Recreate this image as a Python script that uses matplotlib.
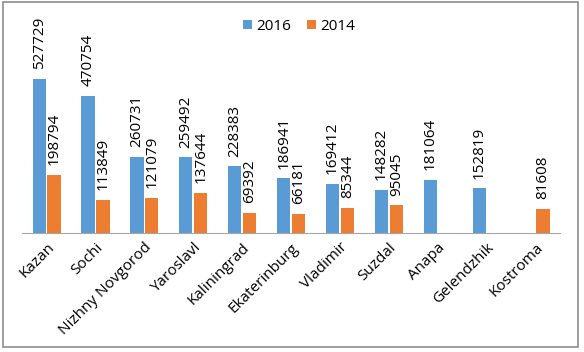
import numpy as np
import matplotlib.pyplot as plt
from matplotlib.patches import Rectangle

plt.rcParams['font.family'] = ['Open Sans', 'DejaVu Sans']

cities = ["Kazan", "Sochi", "Nizhny Novgorod", "Yaroslavl", "Kaliningrad",
          "Ekaterinburg", "Vladimir", "Suzdal", "Anapa", "Gelendzhik", "Kostroma"]
v2016 = [527729, 470754, 260731, 259492, 228383, 186941, 169412, 148282, 181064, 152819, None]
v2014 = [198794, 113849, 121079, 137644, 69392, 66181, 85344, 95045, None, None, 81608]

blue = "#5B9BD5"
orange = "#ED7D31"

fig = plt.figure(figsize=(5.84, 3.52), dpi=100)
# outer chart frame, slightly inset like the original
fig.patches.append(Rectangle((3 / 584, 5 / 352), 575 / 584, 345 / 352,
                             transform=fig.transFigure, fill=False,
                             edgecolor="#8c8c8c", linewidth=1.2))
ax = fig.add_axes([0.038, 0.338, 0.921, 0.605])

x = np.arange(len(cities))
w = 0.27
gap = 0.035

for vals, off, col, lab in [(v2016, -(w + gap) / 2, blue, "2016"),
                            (v2014, (w + gap) / 2, orange, "2014")]:
    xs = [xi + off for xi, v in zip(x, vals) if v is not None]
    ys = [v for v in vals if v is not None]
    ax.bar(xs, ys, width=w, color=col, label=lab)
    for xi, v in zip(xs, ys):
        ax.annotate(str(v), (xi, v), xytext=(0, 7), textcoords="offset points",
                    rotation=90, ha="center", va="bottom", fontsize=11)

ax.set_xlim(-0.5, len(cities) - 0.5)
ax.set_ylim(0, 730000)
ax.set_yticks([])
for s in ["top", "right", "left"]:
    ax.spines[s].set_visible(False)
ax.spines["bottom"].set_color("#a6a6a6")
ax.tick_params(axis="x", length=0, pad=5)
ax.set_xticks(x)
ax.set_xticklabels(cities, rotation=45, ha="right", rotation_mode="anchor", fontsize=11)

ax.legend(loc="upper center", bbox_to_anchor=(0.515, 1.07), ncol=2, frameon=False,
          fontsize=11, handlelength=0.6, handleheight=0.6, columnspacing=1.0,
          handletextpad=0.3)

fig.savefig("out.png")
